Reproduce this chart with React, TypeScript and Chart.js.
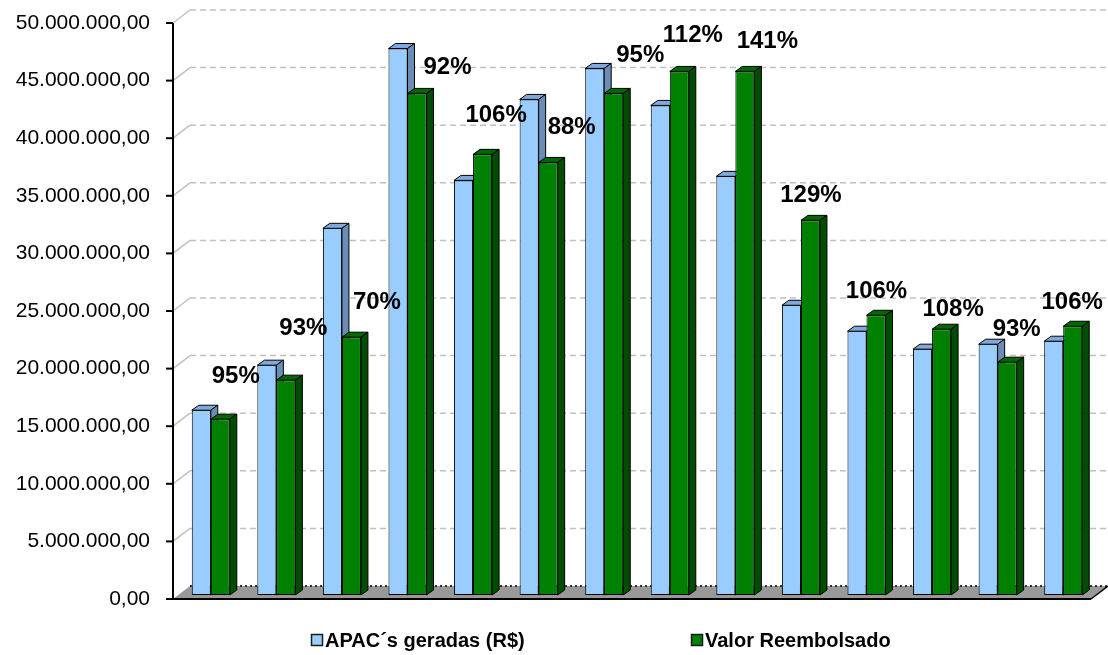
import React, { useEffect, useRef } from "react";
import { Chart, registerables } from "chart.js";

Chart.register(...registerables);

// ---- data ----
const categories = ["1", "2", "3", "4", "5", "6", "7", "8", "9", "10", "11", "12", "13", "14"];
const apacGeradas = [16040000, 19950000, 31830000, 47440000, 35990000, 43020000, 45710000, 42500000, 36340000, 25150000, 22900000, 21340000, 21770000, 22030000];
const valorReembolsado = [15260000, 18650000, 22380000, 43540000, 38250000, 37550000, 43540000, 45450000, 45450000, 32520000, 24280000, 23070000, 20210000, 23330000];
const percentLabels = ["95%", "93%", "70%", "92%", "106%", "88%", "95%", "112%", "141%", "129%", "106%", "108%", "93%", "106%"];
const seriesNames = ["APAC´s geradas (R$)", "Valor Reembolsado"];
const yMin = 0;
const yMax = 50000000;
const yStep = 5000000;

// label placement (pixel shift from group centre / green bar top)
const labelShift: [number, number][] = [
  [25, -43], [27, -52], [35, -35], [40, -26], [23, -39], [33, -35], [36, -38],
  [23, -36], [32, -30], [10, -25], [10, -24], [21, -20], [19, -33], [9, -24],
];

const FONT = "'Liberation Sans', Arial, Helvetica, sans-serif";
const COLORS = {
  blueFront: "#99CCFF",
  blueTop: "#7FA9DC",
  blueSide: "#6A8DB8",
  greenFront: "#008000",
  greenTop: "#006800",
  greenSide: "#004C00",
};
const DEPTH_DX = 7;
const DEPTH_DY = -5;
const FRONT = { dx: -5, dy: 4 };
const BACK = { dx: 12, dy: -9 };

function fmtBR(v: number): string {
  const s = Math.round(v).toString().replace(/\B(?=(\d{3})+(?!\d))/g, ".");
  return s + ",00";
}

function drawFaces(ctx: CanvasRenderingContext2D, el: any, topColor: string, sideColor: string) {
  const { x, y, base, width } = el.getProps(["x", "y", "base", "width"], true);
  const l = x - width / 2;
  const r = x + width / 2;
  ctx.save();
  ctx.lineWidth = 1;
  ctx.strokeStyle = "#000";
  ctx.lineJoin = "round";
  // top face
  ctx.beginPath();
  ctx.moveTo(l, y);
  ctx.lineTo(l + DEPTH_DX, y + DEPTH_DY);
  ctx.lineTo(r + DEPTH_DX, y + DEPTH_DY);
  ctx.lineTo(r, y);
  ctx.closePath();
  ctx.fillStyle = topColor;
  ctx.fill();
  ctx.stroke();
  // side face
  ctx.beginPath();
  ctx.moveTo(r, y);
  ctx.lineTo(r + DEPTH_DX, y + DEPTH_DY);
  ctx.lineTo(r + DEPTH_DX, base + DEPTH_DY);
  ctx.lineTo(r, base);
  ctx.closePath();
  ctx.fillStyle = sideColor;
  ctx.fill();
  ctx.stroke();
  ctx.restore();
}

const threeDPlugin = {
  id: "threeD",
  beforeDatasetsDraw(chart: any) {
    const ctx: CanvasRenderingContext2D = chart.ctx;
    const ys = chart.scales.y;
    const { left, right } = chart.chartArea;
    const y0 = ys.getPixelForValue(0);
    ctx.save();
    // floor
    ctx.beginPath();
    ctx.moveTo(left + FRONT.dx, y0 + FRONT.dy);
    ctx.lineTo(right + FRONT.dx, y0 + FRONT.dy);
    ctx.lineTo(right + BACK.dx, y0 + BACK.dy);
    ctx.lineTo(left + BACK.dx, y0 + BACK.dy);
    ctx.closePath();
    ctx.fillStyle = "#999999";
    ctx.fill();
    // back edge dotted
    ctx.setLineDash([2, 3]);
    ctx.strokeStyle = "#000";
    ctx.lineWidth = 1.5;
    ctx.beginPath();
    ctx.moveTo(left + BACK.dx, y0 + BACK.dy);
    ctx.lineTo(right + BACK.dx, y0 + BACK.dy);
    ctx.stroke();
    ctx.setLineDash([]);
    // right edge
    ctx.lineWidth = 1.5;
    ctx.beginPath();
    ctx.moveTo(right + FRONT.dx, y0 + FRONT.dy);
    ctx.lineTo(right + BACK.dx, y0 + BACK.dy);
    ctx.stroke();
    // front edge
    ctx.lineWidth = 2;
    ctx.beginPath();
    ctx.moveTo(left + FRONT.dx, y0 + FRONT.dy);
    ctx.lineTo(right + FRONT.dx, y0 + FRONT.dy);
    ctx.stroke();

    // gridlines on back wall
    for (let v = yMin + yStep; v <= yMax; v += yStep) {
      const py = ys.getPixelForValue(v);
      ctx.strokeStyle = "#C0C0C0";
      ctx.lineWidth = 1.5;
      ctx.setLineDash([]);
      ctx.beginPath();
      ctx.moveTo(left + FRONT.dx, py + FRONT.dy);
      ctx.lineTo(left + BACK.dx, py + BACK.dy);
      ctx.stroke();
      ctx.setLineDash([6, 4]);
      ctx.beginPath();
      ctx.moveTo(left + BACK.dx, py + BACK.dy);
      ctx.lineTo(right + BACK.dx, py + BACK.dy);
      ctx.stroke();
    }
    ctx.setLineDash([]);
    // front axis line + ticks
    const ax = left + FRONT.dx;
    ctx.strokeStyle = "#000";
    ctx.lineWidth = 2;
    ctx.beginPath();
    ctx.moveTo(ax, ys.getPixelForValue(yMax) + FRONT.dy);
    ctx.lineTo(ax, y0 + FRONT.dy);
    ctx.stroke();
    for (let v = yMin; v <= yMax; v += yStep) {
      const py = ys.getPixelForValue(v) + FRONT.dy;
      ctx.beginPath();
      ctx.moveTo(ax - 7, py);
      ctx.lineTo(ax, py);
      ctx.stroke();
    }
    ctx.restore();
  },
  beforeDatasetDraw(chart: any, args: any) {
    if (args.index === 1) {
      const meta = chart.getDatasetMeta(0);
      meta.data.forEach((el: any) => drawFaces(chart.ctx, el, COLORS.blueTop, COLORS.blueSide));
    }
  },
  afterDatasetsDraw(chart: any) {
    const ctx: CanvasRenderingContext2D = chart.ctx;
    const meta = chart.getDatasetMeta(1);
    meta.data.forEach((el: any) => drawFaces(ctx, el, COLORS.greenTop, COLORS.greenSide));

    // percentage labels
    const xs = chart.scales.x;
    const ys = chart.scales.y;
    ctx.save();
    ctx.fillStyle = "#000";
    ctx.font = `bold 24px ${FONT}`;
    ctx.textAlign = "center";
    ctx.textBaseline = "middle";
    percentLabels.forEach((t, i) => {
      const cx = xs.getPixelForValue(i) + labelShift[i][0];
      const cy = ys.getPixelForValue(valorReembolsado[i]) + labelShift[i][1];
      ctx.fillText(t, cx, cy);
    });
    ctx.restore();
  },
  afterDraw(chart: any) {
    const ctx: CanvasRenderingContext2D = chart.ctx;
    const boxX = [311, 691];
    const cy = 640;
    ctx.save();
    ctx.font = `bold 20px ${FONT}`;
    ctx.textBaseline = "middle";
    ctx.textAlign = "left";
    chart.data.datasets.forEach((ds: any, i: number) => {
      ctx.fillStyle = ds.backgroundColor;
      ctx.fillRect(boxX[i] + 0.5, cy - 6 + 0.5, 11, 11);
      ctx.strokeStyle = "#1a1a1a";
      ctx.lineWidth = 1.5;
      ctx.strokeRect(boxX[i] + 0.5, cy - 6 + 0.5, 11, 11);
      ctx.fillStyle = "#000";
      ctx.fillText(ds.label, boxX[i] + 14, cy + 1);
    });
    ctx.restore();
  },
};

export default function App() {
  const canvasRef = useRef<HTMLCanvasElement | null>(null);

  useEffect(() => {
    const canvas = canvasRef.current;
    if (!canvas) return;
    const chart = new Chart(canvas, {
      type: "bar",
      data: {
        labels: categories,
        datasets: [
          {
            label: seriesNames[0],
            data: apacGeradas,
            backgroundColor: COLORS.blueFront,
            borderColor: "#000",
            borderWidth: 1,
            borderSkipped: false,
          },
          {
            label: seriesNames[1],
            data: valorReembolsado,
            backgroundColor: COLORS.greenFront,
            borderColor: "#000",
            borderWidth: 1,
            borderSkipped: false,
          },
        ],
      },
      options: {
        responsive: false,
        animation: false,
        devicePixelRatio: 1,
        layout: { padding: { left: 12, right: 12, top: 19, bottom: 60 } },
        datasets: {
          bar: { categoryPercentage: 0.58, barPercentage: 1 },
        },
        plugins: {
          legend: { display: false },
          tooltip: { enabled: false },
        },
        scales: {
          x: {
            display: false,
            grid: { display: false },
          },
          y: {
            min: yMin,
            max: yMax,
            grid: { display: false, drawTicks: true, tickLength: 28 },
            border: { display: false },
            afterFit: (s: any) => {
              s.width = 166;
            },
            ticks: {
              stepSize: yStep,
              padding: 0,
              labelOffset: 4,
              color: "#000",
              font: { family: FONT, size: 21 },
              callback: (v: any) => fmtBR(Number(v)),
            },
          },
        },
      },
      plugins: [threeDPlugin],
    });
    return () => chart.destroy();
  }, []);

  return (
    <div style={{ position: "fixed", left: 0, top: 0, width: 1108, height: 655, background: "#fff" }}>
      <canvas ref={canvasRef} width={1108} height={655} style={{ display: "block" }} />
    </div>
  );
}
